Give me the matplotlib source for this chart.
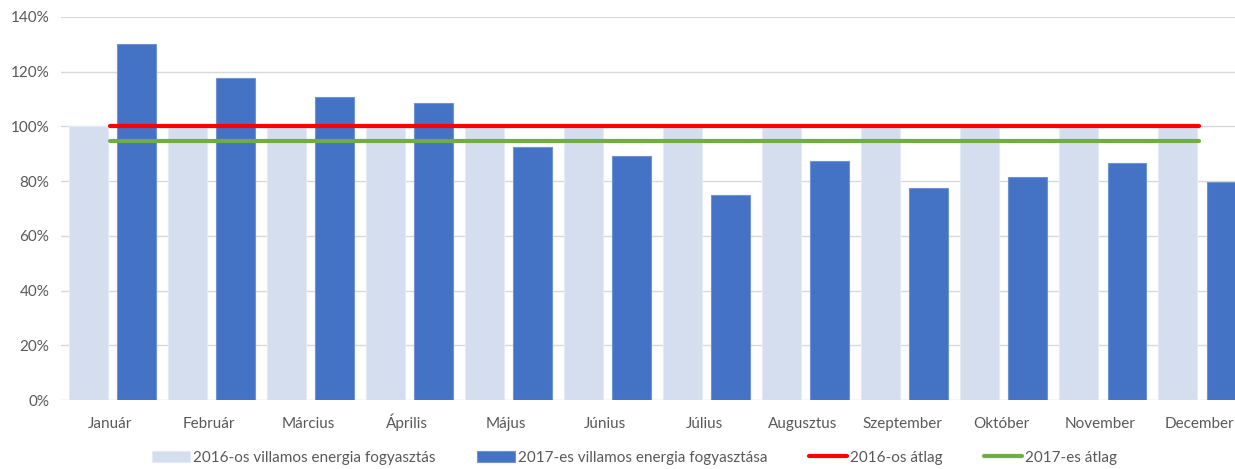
import matplotlib.pyplot as plt
import numpy as np
from matplotlib.ticker import FuncFormatter

# Havi adatok (százalék, 2016 = 100%)
months = ['Január', 'Február', 'Március', 'Április', 'Május', 'Június',
          'Július', 'Augusztus', 'Szeptember', 'Október', 'November', 'December']
cons_2016 = [100, 100, 100, 100, 100, 100, 100, 100, 100, 100, 100, 100]
cons_2017 = [130.1, 117.7, 110.7, 108.4, 92.5, 89.2, 74.9, 87.4, 77.5, 81.5, 86.6, 79.5]
avg_2016 = 100.0
avg_2017 = 94.7

plt.rcParams['font.family'] = ['Lato', 'DejaVu Sans']

fig = plt.figure(figsize=(12.35, 4.69), dpi=100)
ax = fig.add_axes([0.049, 0.147, 0.962, 0.817])

x = np.arange(len(months))
b1 = ax.bar(x - 0.22, cons_2016, width=0.39, color='#D4DEEF', edgecolor='#E4EBF6',
            linewidth=0.8, label='2016-os villamos energia fogyasztás', zorder=2)
b2 = ax.bar(x + 0.27, cons_2017, width=0.39, color='#4472C4', edgecolor='#6F93D3',
            linewidth=0.8, label='2017-es villamos energia fogyasztása', zorder=2)
l1, = ax.plot(x, [avg_2016] * len(x), color='#FF0000', linewidth=3,
              solid_capstyle='round', label='2016-os átlag', zorder=3)
l2, = ax.plot(x, [avg_2017] * len(x), color='#70AD47', linewidth=3,
              solid_capstyle='round', label='2017-es átlag', zorder=3)

ax.set_xlim(-0.5, 11.5)
ax.set_ylim(0, 140)
ax.set_yticks(np.arange(0, 141, 20))
ax.yaxis.set_major_formatter(FuncFormatter(lambda v, p: f'{v:.0f}%'))
ax.set_xticks(x)
ax.set_xticklabels(months, va='baseline')
ax.grid(axis='y', color='#D9D9D9', linewidth=1, zorder=0)
ax.set_axisbelow(True)
for s in ax.spines.values():
    s.set_visible(False)
ax.tick_params(axis='both', length=0, labelsize=11, colors='#595959')
ax.tick_params(axis='x', pad=20)
ax.tick_params(axis='y', pad=8)

fig.legend(handles=[b1, b2, l1, l2], loc='lower center', bbox_to_anchor=(0.514, -0.02),
           ncol=4, frameon=False, fontsize=11, labelcolor='#595959',
           handlelength=2.5, handleheight=0.75, handletextpad=0.2, columnspacing=2.7)

fig.savefig('out.png', dpi=100)
